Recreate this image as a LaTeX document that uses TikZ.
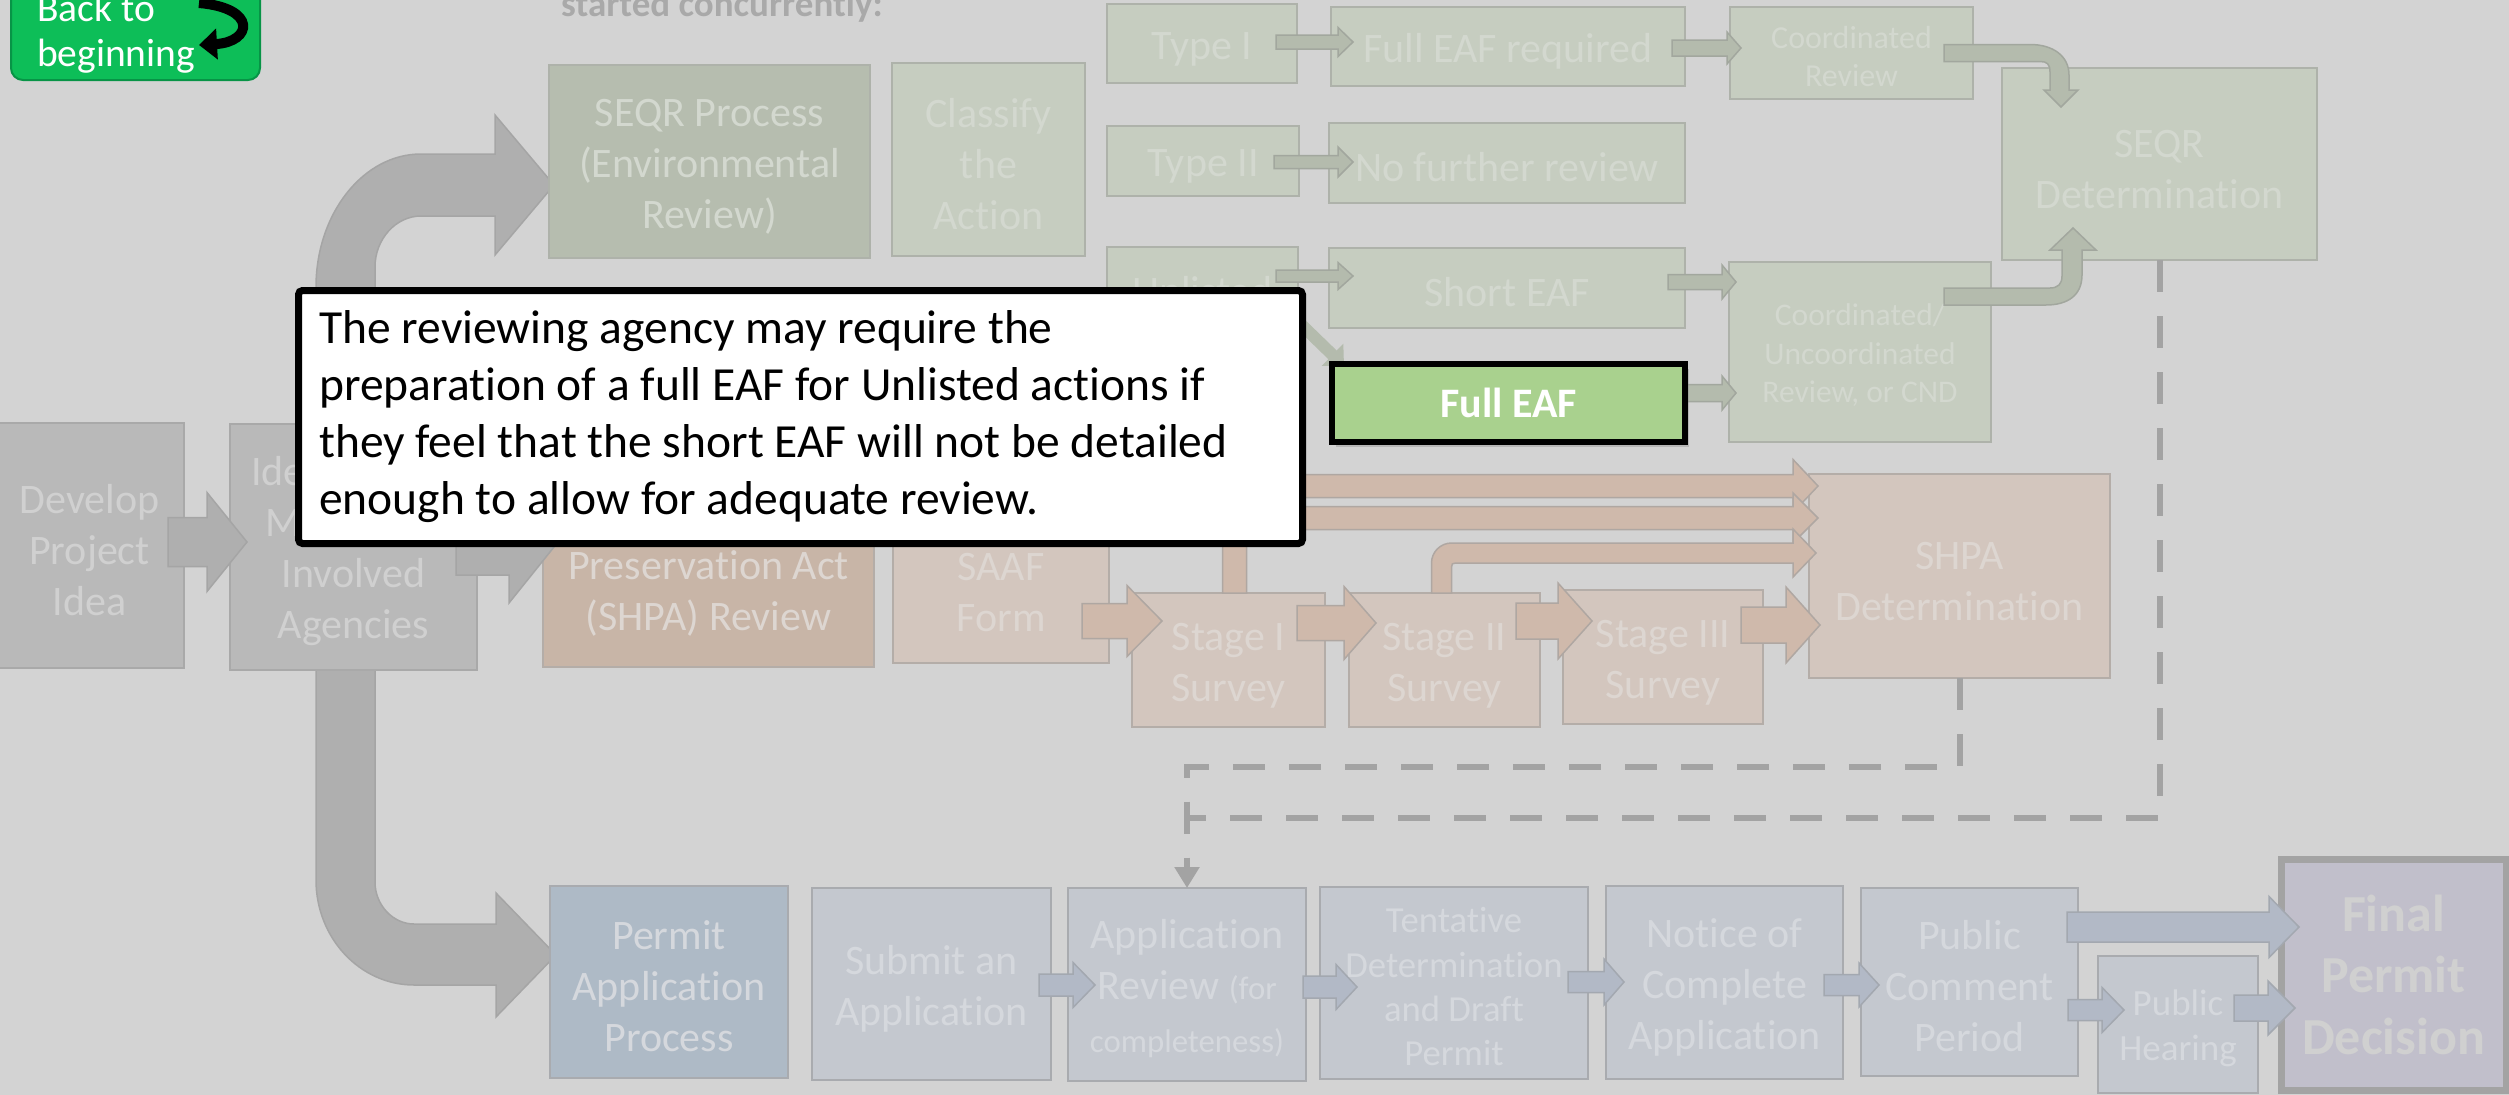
\documentclass[tikz,border=0pt]{standalone}
\usepackage{fontspec}
\setmainfont{Carlito}[Ligatures={NoCommon,NoRequired,NoContextual},Contextuals=NoAlternate]
\usetikzlibrary{calc,arrows.meta,shadows}
\definecolor{bgc}{HTML}{D3D3D3}
\definecolor{grayfill}{HTML}{B9B9B9}
\definecolor{graydraw}{HTML}{A9A9A9}
\definecolor{graytxt}{HTML}{D0D0D0}
\definecolor{seqrfill}{HTML}{B6BDAF}
\definecolor{grfill}{HTML}{C6CDC0}
\definecolor{grdraw}{HTML}{AEB2AA}
\definecolor{grtxt}{HTML}{D3D8CF}
\definecolor{shpafill}{HTML}{C8B5A7}
\definecolor{tanfill}{HTML}{D3C6BE}
\definecolor{tandraw}{HTML}{B4ADA8}
\definecolor{tantxt}{HTML}{DDD6D1}
\definecolor{permfill}{HTML}{AEBAC6}
\definecolor{blfill}{HTML}{C4C8CF}
\definecolor{bldraw}{HTML}{A9ABAF}
\definecolor{bltxt}{HTML}{D5D8DD}
\definecolor{finfill}{HTML}{C1BFCB}
\definecolor{findraw}{HTML}{A3A3A3}
\definecolor{garrfill}{HTML}{AFAFAF}
\definecolor{garrdraw}{HTML}{A5A5A5}
\definecolor{grarrfill}{HTML}{B4BBAD}
\definecolor{grarrdraw}{HTML}{A2A79E}
\definecolor{tarrfill}{HTML}{CFB9AB}
\definecolor{tarrdraw}{HTML}{AFA7A2}
\definecolor{barrfill}{HTML}{B2B9C6}
\definecolor{barrdraw}{HTML}{A3A8B0}
\definecolor{eafgreen}{HTML}{A9D18E}
\definecolor{btngreen}{HTML}{0DBE58}
\definecolor{btnedge}{HTML}{079446}
\definecolor{headtxt}{HTML}{A9A9A9}
\newcommand\fsz[2]{\fontsize{#1}{#2}\selectfont}
\newcommand\bxn[7]{%
  \pgfmathsetmacro\bxw{#5-#3}\pgfmathsetmacro\bxh{#6-#4}%
  \node[#2, minimum width=\bxw pt, minimum height=\bxh pt] (#1) at ({(#3+#5)/2},{(#4+#6)/2}) {#7};}
\newcommand\bx[7]{\bxn{#1}{#2}{#3}{#4}{#5}{#6}{\rule{0pt}{0.9em}#7}}
\newcommand\harr[6]{%
  \path[#1] let \p1=(#2), \p2=(#3) in
    (\x1,\y2+#4pt) -- (\x2-#6pt,\y2+#4pt) -- (\x2-#6pt,\y2+#5pt) -- (\x2,\y2)
    -- (\x2-#6pt,\y2-#5pt) -- (\x2-#6pt,\y2-#4pt) -- (\x1,\y2-#4pt) -- cycle;}
\tikzset{
  box/.style={draw, line width=2.5, inner sep=0, outer sep=0, align=center, font=\fsz{42}{51}},
  graybox/.style={box, fill=grayfill, draw=graydraw, text=graytxt},
  seqrbox/.style={box, fill=seqrfill, draw=grdraw, text=grtxt},
  greenbox/.style={box, fill=grfill, draw=grdraw, text=grtxt},
  shpabox/.style={box, fill=shpafill, draw=tandraw, text=tantxt},
  tanbox/.style={box, fill=tanfill, draw=tandraw, text=tantxt},
  permbox/.style={box, fill=permfill, draw=bldraw, text=bltxt},
  bluebox/.style={box, fill=blfill, draw=bldraw, text=bltxt},
  finalbox/.style={box, fill=finfill, draw=findraw, line width=7, text=graytxt, font=\fsz{52}{61.5}\bfseries},
  garrow/.style={fill=garrfill, draw=garrdraw, line width=1.5},
  grarrow/.style={fill=grarrfill, draw=grarrdraw, line width=1.5},
  tarrow/.style={fill=tarrfill, draw=tarrdraw, line width=1.5},
  barrow/.style={fill=barrfill, draw=barrdraw, line width=1.5},
  dashln/.style={draw=findraw, line width=6, dash pattern=on 32pt off 24pt},
}
\begin{document}
\begin{tikzpicture}[x=1pt, y=-1pt]
\clip (0,0) rectangle (2509,1095);
\fill[bgc] (0,0) rectangle (2509,1095);

% heading fragment
\node[anchor=base west, inner sep=0, text=headtxt, font=\fsz{37}{44}\bfseries] (head) at (561,16) {started concurrently:};

% back to beginning button
\node[draw=btnedge, fill=btngreen, line width=2, rounded corners=12, minimum width=249pt, minimum height=115pt, inner sep=0] (btn) at (135.5,22.5) {};
\node[anchor=west, align=left, text=white, font=\fsz{39.5}{45}, inner sep=0] (btntxt) at (37,34) {Back to\\beginning};
\draw[line width=10, -{Triangle[length=18pt,width=30pt]}] (199,3) .. controls (258,8) and (252,42) .. (199,45);

% big gray branching arrow (behind boxes)
\path[garrow] (316,880) -- (316,287) .. controls (316,214) and (363,154) .. (421,154) -- (495,154) -- (495,115) -- (554,185) -- (495,255) -- (495,216) -- (421,216) .. controls (396,216) and (375,239) .. (375,267) -- (375,882) .. controls (375,905) and (393,924) .. (414,924) -- (496,924) -- (496,893) -- (556,955) -- (496,1017) -- (496,985) -- (414,985) .. controls (360,985) and (316,938) .. (316,880) -- cycle;

% gray boxes
\bx{dev}{graybox}{-5}{423}{184}{668}{Develop\\Project\\Idea}
\bx{idf}{graybox}{230}{424}{477}{670}{Identify and\\Meet with\\Involved\\Agencies}

% SEQR (green) boxes
\bx{seqr}{seqrbox}{549}{65}{870}{258}{SEQR Process\\(Environmental\\Review)}
\bx{classify}{greenbox}{892}{63}{1085}{256}{Classify\\the\\Action}
\bx{type1}{greenbox}{1107}{4}{1297}{83}{Type I}
\bx{fullreq}{greenbox}{1331}{7}{1685}{86}{Full EAF required}
\bx{coordrev}{greenbox, font=\fsz{32}{38}}{1730}{7}{1973}{99}{Coordinated\\Review}
\bx{seqrdet}{greenbox}{2002}{68}{2317}{260}{SEQR\\Determination}
\bx{type2}{greenbox}{1107}{126}{1299}{196}{Type II}
\bx{nofurther}{greenbox}{1329}{123}{1685}{203}{No further review}
\bx{unlisted}{greenbox}{1107}{247}{1298}{327}{Unlisted}
\bx{shorteaf}{greenbox}{1329}{248}{1685}{328}{Short EAF}
\bx{coord2}{greenbox, font=\fsz{31.5}{38.5}}{1729}{262}{1991}{442}{Coordinated/\\Uncoordinated\\Review, or CND}

% SHPA (tan) boxes
\bx{shpa}{shpabox}{543}{460}{874}{667}{State Historic\\Preservation Act\\(SHPA) Review}
\bx{saaf}{tanbox}{893}{460}{1109}{663}{Submit\\SAAF\\Form}
\bx{st1}{tanbox}{1132}{593}{1325}{727}{Stage I\\Survey}
\bx{st2}{tanbox}{1349}{593}{1540}{727}{Stage II\\Survey}
\bx{st3}{tanbox}{1563}{590}{1763}{724}{Stage III\\Survey}
\bx{shpadet}{tanbox}{1809}{474}{2110}{678}{SHPA\\Determination}

% permit (blue) boxes
\bx{permit}{permbox}{550}{886}{788}{1078}{Permit\\Application\\Process}
\bx{submit}{bluebox}{812}{888}{1051}{1080}{Submit an\\Application}
\bx{apprev}{bluebox}{1068}{888}{1306}{1081}{Application\\Review {\fsz{32.8}{40}(for}\\[2pt]\fsz{32.8}{40}completeness)}
\bx{tent}{bluebox, font=\fsz{36.7}{44.3}}{1320}{887}{1588}{1079}{Tentative\\Determination\\and Draft\\Permit}
\bx{notice}{bluebox}{1606}{886}{1843}{1079}{Notice of\\Complete\\Application}
\bx{comment}{bluebox}{1861}{888}{2078}{1076}{Public\\Comment\\Period}
\bx{hearing}{bluebox, font=\fsz{37}{45}}{2098}{956}{2258}{1093}{Public\\Hearing}
\bxn{final}{finalbox}{2281}{859}{2506}{1090}{Final\\Permit\\Decision}

% gray arrows
\harr{garrow}{$(dev.east)+(-16,0)$}{$(idf.west)+(17,-5)$}{24.5}{49.5}{40}
\harr{garrow}{$(idf.east)+(-21,0)$}{$(shpa.west)+(11,-16.5)$}{28}{56}{45}

% green arrows
\harr{grarrow}{$(type1.east)+(-21,0)$}{$(fullreq.west)+(22,-4.5)$}{7}{14.5}{15}
\harr{grarrow}{$(fullreq.east)+(-13,0)$}{$(coordrev.west)+(11,-5)$}{8}{16}{14}
\harr{grarrow}{$(type2.east)+(-25,0)$}{$(nofurther.west)+(24,-1)$}{6.5}{15}{15}
\harr{grarrow}{$(unlisted.east)+(-22,0)$}{$(shorteaf.west)+(24,-12)$}{6}{13.5}{15}
\harr{grarrow}{$(shorteaf.east)+(-17,0)$}{$(coord2.west)+(7,-70)$}{7.5}{17}{14}
\harr{grarrow}{$(seqrdet.west)+(-380,0)$}{$(coord2.west)+(7,41)$}{8.5}{17}{14}
\draw[grarrfill, line width=12, -{Triangle[length=16pt,width=30pt]}] ($(unlisted.east)+(-20,15)$) -- ($(shorteaf.south west)+(15,38)$);
% coordinated review -> SEQR determination
\path[grarrow] let \p1=($(coordrev.east)+(-29,0)$), \p2=($(seqrdet.north)+(-98.5,39)$) in
  (\x1,\y1+8.5pt) -- (\x2-31pt,\y1+8.5pt) .. controls (\x2-8pt,\y1+8.5pt) and (\x2+8pt,\y1-3pt) .. (\x2+8pt,\y1-22pt)
  -- (\x2+8pt,\y2+17pt) -- (\x2+17pt,\y2+17pt) -- (\x2,\y2) -- (\x2-17pt,\y2+17pt) -- (\x2-11pt,\y2+17pt)
  -- (\x2-11pt,\y1-19pt) .. controls (\x2-11pt,\y1-11pt) and (\x2-14pt,\y1-8.5pt) .. (\x2-21pt,\y1-8.5pt)
  -- (\x1,\y1-8.5pt) -- cycle;
% coordinated/uncoordinated -> SEQR determination
\path[grarrow] let \p1=($(coord2.east)+(-47,-55.5)$), \p2=($(seqrdet.south)+(-86.5,-32)$) in
  (\x1,\y1+8.5pt) -- (\x2-23pt,\y1+8.5pt) .. controls (\x2-15pt,\y1+8.5pt) and (\x2-11pt,\y1+12.5pt) .. (\x2-11pt,\y1+20.5pt)
  -- (\x2-11pt,\y2-22pt) -- (\x2-23pt,\y2-22pt) -- (\x2,\y2) -- (\x2+23pt,\y2-22pt) -- (\x2+9pt,\y2-22pt)
  -- (\x2+9pt,\y1+21.5pt) .. controls (\x2+9pt,\y1+1.5pt) and (\x2-5pt,\y1-8.5pt) .. (\x2-27pt,\y1-8.5pt)
  -- (\x1,\y1-8.5pt) -- cycle;

% tan arrows
\harr{tarrow}{$(saaf.east)+(-27,0)$}{$(st1.west)+(30,-39)$}{17.5}{35.5}{35}
\harr{tarrow}{$(st1.east)+(-28,0)$}{$(st2.west)+(27,-37)$}{17.5}{36.5}{32}
\harr{tarrow}{$(st2.east)+(-24,0)$}{$(st3.west)+(29,-36)$}{18}{38}{34}
\harr{tarrow}{$(st3.east)+(-22,0)$}{$(shpadet.west)+(11,49)$}{18}{38}{34}
\harr{tarrow}{$(saaf.east)+(11,0)$}{$(shpadet.west)+(9,-90)$}{11.5}{26.5}{25}
\path[tarrow] let \p1=($(st1.north)+(6,0)$), \p2=($(shpadet.west)+(9,-58)$) in
  (\x1-12pt,\y1) -- (\x1-12pt,\y2+11.5pt) -- (\x2-25pt,\y2+11.5pt) -- (\x2-25pt,\y2+25pt) -- (\x2,\y2)
  -- (\x2-25pt,\y2-25pt) -- (\x2-25pt,\y2-11.5pt) -- (\x1+12pt,\y2-11.5pt) -- (\x1+12pt,\y1) -- cycle;
\path[tarrow] let \p1=($(st2.north)+(-3,0)$), \p2=($(shpadet.west)+(7,-23)$) in
  (\x1-10pt,\y1) -- (\x1-10pt,\y2-10pt) .. controls (\x1-10pt,\y2+1pt) and (\x1-1pt,\y2+10pt) .. (\x1+10pt,\y2+10pt)
  -- (\x2-23pt,\y2+10pt) -- (\x2-23pt,\y2+24pt) -- (\x2,\y2) -- (\x2-23pt,\y2-24pt) -- (\x2-23pt,\y2-10pt)
  -- (\x1+14pt,\y2-10pt) .. controls (\x1+11pt,\y2-10pt) and (\x1+10pt,\y2-11pt) .. (\x1+10pt,\y2-14pt)
  -- (\x1+10pt,\y1) -- cycle;

% blue arrows
\harr{barrow}{$(submit.east)+(-12,0)$}{$(apprev.west)+(27,0.5)$}{11}{22.5}{22}
\harr{barrow}{$(apprev.east)+(-3,0)$}{$(tent.west)+(37,4)$}{11}{22.5}{21}
\harr{barrow}{$(tent.east)+(-20,0)$}{$(notice.west)+(18,-0.5)$}{10.5}{23}{20}
\harr{barrow}{$(notice.east)+(-19,0)$}{$(comment.west)+(18,3)$}{10.5}{22}{20}
\harr{barrow}{$(comment.east)+(-11,0)$}{$(final.west)+(18,-47.5)$}{15}{30.5}{30}
\harr{barrow}{$(comment.east)+(-10,0)$}{$(hearing.west)+(26,-14.5)$}{10.5}{22.5}{22}
\harr{barrow}{$(hearing.east)+(-24,0)$}{$(final.west)+(14,33.5)$}{13}{27}{27}

% dashed connections
\draw[dashln] (seqrdet.south) |- (1187,818);
\draw[dashln, -{Triangle[length=21pt,width=24pt]}] (shpadet.south) |- (1187,767) -- (apprev.north);

% callout
\node[draw=black, fill=white, line width=7, rounded corners=4, minimum width=1004pt, minimum height=253pt, inner sep=0] (callout) at (800.5,417) {};
\node[anchor=west, align=left, inner sep=0, font=\fsz{47.5}{57}] (callouttxt) at (319,417) {The reviewing agency may require the\\preparation of a full EAF for Unlisted actions if\\they feel that the short EAF will not be detailed\\enough to allow for adequate review.};

% highlighted Full EAF
\bxn{fulleaf}{box, fill=eafgreen, draw=black, line width=6, text=white, font=\fsz{42}{51}\bfseries, drop shadow={shadow xshift=4pt, shadow yshift=-5pt, opacity=0.35}}{1332}{364}{1685}{442}{Full EAF}
\end{tikzpicture}
\end{document}
